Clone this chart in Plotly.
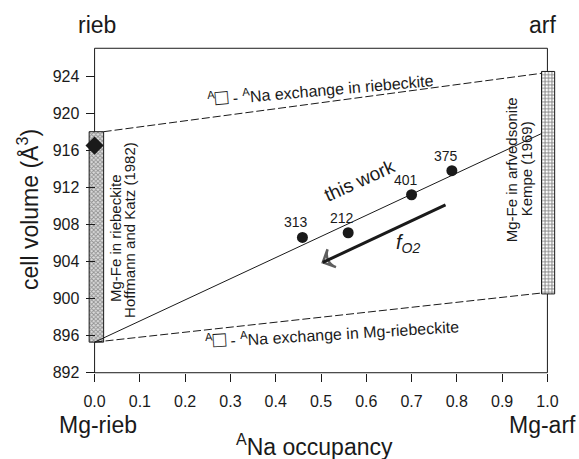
import plotly.graph_objects as go

# A-site Na occupancy vs. unit-cell volume of riebeckite-arfvedsonite amphiboles
ana_occ = [0.459, 0.56, 0.70, 0.789]
cell_vol = [906.6, 907.1, 911.2, 913.8]
sample_ids = ["313", "212", "401", "375"]

# fit through this work's samples
fit_x = [0.0, 0.987]
fit_v = [895.3, 917.8]

# A-site vacancy <-> Na exchange trends
rieb_exch_x = [0.02, 0.987]
rieb_exch_v = [918.0, 924.3]
mgrieb_exch_x = [0.0, 0.987]
mgrieb_exch_v = [895.3, 900.6]

# Mg-Fe ranges at the end members
rieb_range = [895.3, 918.0]
arf_range = [900.5, 924.5]

# riebeckite reference volume
rieb_ref_x = [0.0]
rieb_ref_v = [916.5]

# decreasing oxygen fugacity direction
fo2_x = [0.775, 0.504]
fo2_v = [910.1, 903.9]

x_ticks = [round(0.1 * i, 1) for i in range(11)]
y_ticks = list(range(892, 925, 4))

FONT = "Liberation Sans, Arial, sans-serif"
INK = "#1a1a1a"

fig = go.Figure()

# Mg-Fe bars
fig.add_trace(go.Bar(
    x=[0.004], y=[rieb_range[1] - rieb_range[0]], base=[rieb_range[0]], width=[0.032],
    marker=dict(color="white", line=dict(color=INK, width=1),
                pattern=dict(shape="x", size=3, solidity=0.5, fgcolor="#444", bgcolor="#dcdcdc")),
    showlegend=False, hoverinfo="skip"))
fig.add_trace(go.Bar(
    x=[1.0015], y=[arf_range[1] - arf_range[0]], base=[arf_range[0]], width=[0.029],
    marker=dict(color="white", line=dict(color=INK, width=1),
                pattern=dict(shape="+", size=3.4, solidity=0.45, fgcolor="#000", bgcolor="white")),
    showlegend=False, hoverinfo="skip"))

# exchange trends
for xs, vs in [(rieb_exch_x, rieb_exch_v), (mgrieb_exch_x, mgrieb_exch_v)]:
    fig.add_trace(go.Scatter(x=xs, y=vs, mode="lines",
                             line=dict(color=INK, width=1, dash="8px,3px"),
                             showlegend=False, hoverinfo="skip"))

# fit line
fig.add_trace(go.Scatter(x=fit_x, y=fit_v, mode="lines",
                         line=dict(color=INK, width=1), showlegend=False, hoverinfo="skip"))

# samples
fig.add_trace(go.Scatter(x=ana_occ, y=cell_vol, mode="markers",
                         marker=dict(color=INK, size=11, symbol="circle"),
                         showlegend=False))
fig.add_trace(go.Scatter(x=rieb_ref_x, y=rieb_ref_v, mode="markers",
                         marker=dict(color=INK, size=14, symbol="diamond"),
                         showlegend=False, cliponaxis=False))

# fO2 arrow
fig.add_trace(go.Scatter(x=fo2_x, y=fo2_v, mode="lines+markers",
                         line=dict(color=INK, width=3),
                         marker=dict(symbol="arrow-wide-open", size=[0, 14], angleref="previous",
                                     color=INK, line=dict(color=INK, width=2.5)),
                         showlegend=False, hoverinfo="skip"))

annotations = []
for x, v, t in zip(ana_occ, cell_vol, sample_ids):
    annotations.append(dict(x=x, y=v, text=t, showarrow=False, xshift=-6, yshift=15,
                            font=dict(size=14, color=INK, family=FONT)))


def note(text, x, y, size, angle=0, xref="x", yref="y"):
    annotations.append(dict(x=x, y=y, xref=xref, yref=yref, text=text, showarrow=False,
                            textangle=angle, xanchor="center", yanchor="middle",
                            font=dict(size=size, color=INK, family=FONT)))


BOX = '<span style="font-size:22px">□</span>'

note("this work", 0.586, 912.7, 19, -24.4)
note("<i>f<sub>O2</sub></i>", 0.692, 905.9, 20)
note("Mg-Fe in riebeckite", 0.0466, 906.5, 15, -90)
note("Hoffmann and Katz (1982)", 0.078, 907.4, 15, -90)
note("Mg-Fe in arfvedsonite", 0.921, 913.9, 15, -90)
note("Kempe (1969)", 0.954, 914.0, 15, -90)
note(f"<sup>A</sup>{BOX} - <sup>A</sup>Na exchange in riebeckite", 0.498, 922.7, 16, -5)
note(f"<sup>A</sup>{BOX} - <sup>A</sup>Na exchange in Mg-riebeckite", 0.525, 896.3, 16, -3.5)
note("rieb", 0.005, 1.0408, 23, yref="paper")
note("arf", 0.99, 1.0408, 23, yref="paper")
note("Mg-rieb", 0.0075, -0.1254, 23, yref="paper")
note("Mg-arf", 0.99, -0.1254, 23, yref="paper")
note("<sup>A</sup>Na occupancy", 0.485, -0.1837, 23, yref="paper")
note("cell volume (Å<sup>3</sup>)", -0.1104, 0.5015, 23, -90, xref="paper", yref="paper")

# frame around the data region
frame = [((0, 892), (0, 927)), ((0, 927), (1, 927)), ((1, 927), (1, 892)), ((0, 892), (1, 892))]
shapes = [dict(type="line", xref="x", yref="y", x0=a[0], y0=a[1], x1=b[0], y1=b[1],
               line=dict(color=INK, width=1), layer="below") for a, b in frame]

fig.update_layout(
    width=579, height=459,
    margin=dict(l=81, r=18, t=39, b=77),
    paper_bgcolor="white", plot_bgcolor="white",
    barmode="overlay",
    font=dict(family=FONT, color=INK),
    annotations=annotations,
    shapes=shapes,
    xaxis=dict(range=[-0.03, 1.03], domain=[0, 1], anchor="free", position=1 / 37,
               tickvals=x_ticks, tickformat=".1f", ticks="outside", ticklen=8,
               ticklabelstandoff=6,
               tickcolor=INK, tickwidth=1, showline=False, showgrid=False, zeroline=False,
               tickfont=dict(size=16, color=INK, family=FONT)),
    yaxis=dict(range=[891, 928], domain=[0, 1], anchor="free", position=0.03 / 1.06,
               tickvals=y_ticks, ticks="outside", ticklen=9, ticklabelstandoff=3,
               tickcolor=INK, tickwidth=1, showline=False, showgrid=False, zeroline=False,
               tickfont=dict(size=16, color=INK, family=FONT)),
)

fig.write_html("out.html")
